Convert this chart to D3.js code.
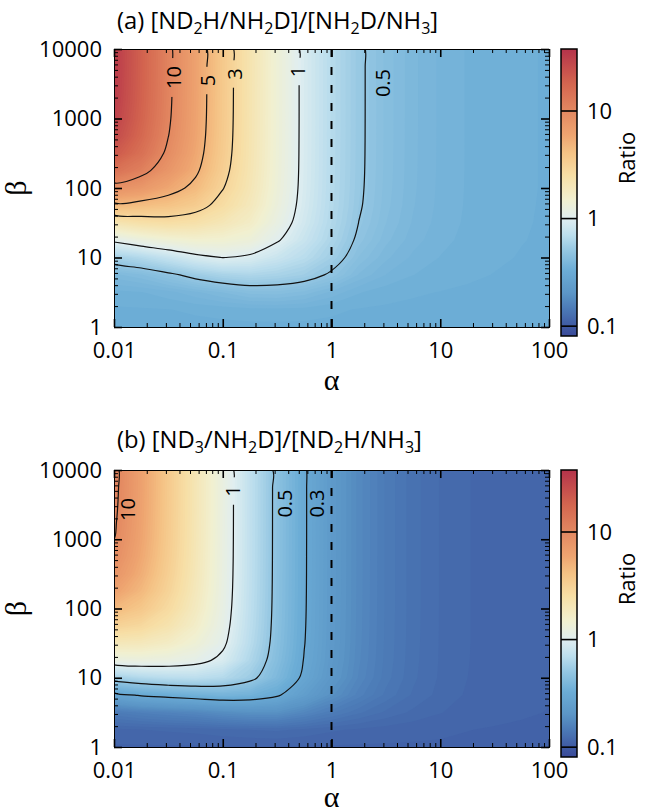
<!DOCTYPE html>
<html><head><meta charset="utf-8">
<script src="https://cdn.jsdelivr.net/npm/d3@7"></script>
<style>
body{margin:0;background:#fff;}
svg text{font-family:"Open Sans",sans-serif;fill:#000;}
</style></head><body>
<svg id="chart" width="656" height="812"></svg>
<script>
// ---------- data ----------
const alphaGrid = [0.01,0.0178,0.0316,0.0562,0.1,0.178,0.316,0.562,1,1.78,3.16,5.62,10,17.8,31.6,56.2,100];
const betaGrid  = [1,1.78,3.16,5.62,10,17.8,31.6,56.2,100,178,316,562,1000,1780,3160,5620,10000];
const alphaTicks = [0.01,0.1,1,10,100];
const betaTicks  = [1,10,100,1000,10000];
const ratioTicks = [0.1,1,10];

// panel (a): [ND2H/NH2D]/[NH2D/NH3]; one row per alpha, values over betaGrid
const ratioA = [
 [0.3333,0.3352,0.348,0.399,0.574,1.07,2.152,4.57,8.57,14.57,21.4,26.9,30.4,32.15,32.99,33.37,33.54],
 [0.3333,0.3358,0.3526,0.4212,0.65,1.254,2.421,4.326,7.47,11.43,14.85,17.02,18.14,18.66,18.89,18.99,19.03],
 [0.3333,0.3373,0.3639,0.4718,0.766,1.402,2.548,4.027,5.827,7.77,9.2,10.05,10.5,10.71,10.8,10.84,10.86],
 [0.3333,0.3399,0.3833,0.541,0.913,1.501,2.388,3.487,4.53,5.32,5.8,6.05,6.17,6.22,6.245,6.253,6.257],
 [0.3333,0.3431,0.4072,0.5998,1.005,1.466,2.042,2.609,3.048,3.351,3.518,3.598,3.636,3.653,3.66,3.664,3.666],
 [0.3333,0.3471,0.4343,0.6257,0.942,1.339,1.687,1.936,2.076,2.147,2.18,2.196,2.202,2.205,2.207,2.208,2.208],
 [0.3333,0.3481,0.4375,0.5982,0.802,1.032,1.197,1.295,1.346,1.369,1.379,1.384,1.386,1.387,1.387,1.387,1.387],
 [0.3333,0.346,0.4188,0.556,0.684,0.792,0.861,0.897,0.914,0.921,0.924,0.925,0.926,0.926,0.926,0.926,0.926],
 [0.3333,0.3407,0.383,0.4814,0.5615,0.614,0.642,0.656,0.662,0.665,0.666,0.667,0.667,0.667,0.667,0.667,0.667],
 [0.3333,0.3365,0.3551,0.4036,0.4434,0.4779,0.499,0.5114,0.5167,0.5191,0.5201,0.5205,0.5207,0.5208,0.5208,0.5208,0.5208],
 [0.3333,0.3349,0.3443,0.3699,0.3921,0.4123,0.4257,0.4328,0.4362,0.4376,0.4383,0.4386,0.4387,0.4387,0.4387,0.4387,0.4387],
 [0.3333,0.3342,0.3395,0.3539,0.3664,0.3777,0.3853,0.3893,0.3912,0.392,0.3923,0.3925,0.3926,0.3926,0.3926,0.3926,0.3926],
 [0.3333,0.3339,0.3372,0.3458,0.3529,0.359,0.3629,0.365,0.3659,0.3664,0.3666,0.3667,0.3667,0.3667,0.3667,0.3667,0.3667],
 [0.3333,0.3337,0.3355,0.34,0.3445,0.3485,0.3505,0.3514,0.3518,0.352,0.352,0.352,0.352,0.352,0.352,0.352,0.352],
 [0.3333,0.3335,0.3345,0.3372,0.3398,0.342,0.3432,0.3438,0.344,0.344,0.344,0.344,0.344,0.344,0.344,0.344,0.344],
 [0.3333,0.3334,0.3339,0.3354,0.3368,0.3381,0.3387,0.339,0.3392,0.3392,0.3392,0.3392,0.3392,0.3392,0.3392,0.3392,0.3392],
 [0.3333,0.3333,0.3336,0.3344,0.3352,0.3358,0.3362,0.3364,0.3366,0.3366,0.3366,0.3366,0.3366,0.3366,0.3366,0.3366,0.3366]
];

// panel (b): [ND3/NH2D]/[ND2H/NH3]
const ratioB = [
 [0.1111,0.1158,0.1469,0.273,0.5716,1.21,1.985,3.141,4.659,6.35,7.92,9.15,9.98,10.5,10.8,10.98,11.09],
 [0.1111,0.117,0.1561,0.3084,0.6443,1.25,1.935,2.812,3.764,4.624,5.284,5.73,6.0,6.15,6.24,6.29,6.32],
 [0.1111,0.1179,0.1629,0.3285,0.6884,1.21,1.717,2.248,2.718,3.068,3.3,3.441,3.523,3.567,3.592,3.607,3.615],
 [0.1111,0.1189,0.1699,0.3492,0.704,1.11,1.403,1.648,1.822,1.934,2.001,2.04,2.061,2.072,2.079,2.082,2.085],
 [0.1111,0.121,0.183,0.3692,0.6555,0.9249,1.0619,1.1293,1.1699,1.1933,1.2062,1.2136,1.2175,1.2198,1.2209,1.2215,1.2218],
 [0.1111,0.1227,0.1909,0.3563,0.542,0.6321,0.6821,0.7062,0.7195,0.727,0.7311,0.7334,0.7347,0.7353,0.7357,0.7359,0.736],
 [0.1111,0.1239,0.1907,0.3113,0.399,0.4312,0.447,0.4541,0.4579,0.46,0.4612,0.4619,0.4622,0.4624,0.4625,0.4626,0.4626],
 [0.1111,0.1211,0.1689,0.2399,0.282,0.2959,0.3024,0.3053,0.3069,0.3077,0.3082,0.3084,0.3086,0.3087,0.3087,0.3087,0.3087],
 [0.1111,0.1181,0.1491,0.1891,0.21,0.2164,0.2194,0.2207,0.2214,0.2218,0.222,0.2221,0.2222,0.2222,0.2222,0.2222,0.2222],
 [0.1111,0.116,0.1358,0.1578,0.168,0.171,0.1723,0.1729,0.1732,0.1734,0.1735,0.1736,0.1736,0.1736,0.1736,0.1736,0.1736],
 [0.1111,0.1145,0.127,0.1388,0.1437,0.1451,0.1457,0.1459,0.1461,0.1462,0.1462,0.1462,0.1462,0.1462,0.1462,0.1462,0.1462],
 [0.1111,0.1135,0.1212,0.1274,0.1297,0.1303,0.1306,0.1308,0.1309,0.1309,0.1309,0.1309,0.1309,0.1309,0.1309,0.1309,0.1309],
 [0.1111,0.1127,0.1174,0.1206,0.1217,0.122,0.1221,0.1222,0.1222,0.1222,0.1222,0.1222,0.1222,0.1222,0.1222,0.1222,0.1222],
 [0.1111,0.1119,0.1145,0.1163,0.1171,0.1173,0.1174,0.1174,0.1174,0.1174,0.1174,0.1174,0.1174,0.1174,0.1174,0.1174,0.1174],
 [0.1111,0.1115,0.113,0.1141,0.1145,0.1146,0.1146,0.1146,0.1146,0.1146,0.1146,0.1146,0.1146,0.1146,0.1146,0.1146,0.1146],
 [0.1111,0.1113,0.1122,0.1128,0.113,0.1131,0.1131,0.1131,0.1131,0.1131,0.1131,0.1131,0.1131,0.1131,0.1131,0.1131,0.1131],
 [0.1111,0.1112,0.1117,0.112,0.1121,0.1122,0.1122,0.1122,0.1122,0.1122,0.1122,0.1122,0.1122,0.1122,0.1122,0.1122,0.1122]
];

const contourLevelsA = [0.5,1,3,5,10];
const contourLevelsB = [0.3,0.5,1,10];
const labelsA = [
 {text:"10", a:0.0354, b:3890, gap:true},
 {text:"5",  a:0.0724, b:3520, gap:true},
 {text:"3",  a:0.128,  b:4370, gap:true},
 {text:"1",  a:0.492,  b:4745, gap:true},
 {text:"0.5",a:2.94,   b:3240, gap:false}
];
const labelsB = [
 {text:"10", a:0.0133, b:2690, gap:false},
 {text:"1",  a:0.124,  b:4970, gap:true},
 {text:"0.5",a:0.37,   b:3280, gap:false},
 {text:"0.3",a:0.736,  b:3280, gap:false}
];
const titleA = "(a) [ND_2H/NH_2D]/[NH_2D/NH_3]";
const titleB = "(b) [ND_3/NH_2D]/[ND_2H/NH_3]";

// ---------- style ----------
const PL = 114, PR = 549;
const cbMin = 0.081, cbMax = 37.7;
const colorStops = [0.081,0.1,0.15,0.2,0.33,0.5,0.7,1,1.5,2.5,4,6,10,18,37.7];
const colorHex = ["#3a4a99","#3f5aa3","#4d7db8","#5b95c6","#6cadd6","#93c6e2","#bcdeed","#e0eef0","#f1f0d0","#f7dfa6","#f5c486","#eea470","#e38861","#d3654f","#b5334a"];
const color = d3.scaleLog().domain(colorStops).range(colorHex).interpolate(d3.interpolateRgb).clamp(true);

const svg = d3.select("#chart");
const defs = svg.append("defs");

function title(x, y, str){
  const t = svg.append("text").attr("x",x).attr("y",y).attr("font-size",23.8);
  const parts = str.split(/_(\d)/);
  parts.forEach((p,i)=>{
    if(i%2===1) t.append("tspan").attr("font-size",16).attr("dy",5).text(p);
    else if(p) t.append("tspan").attr("dy", i>0 ? -5 : 0).text(p);
  });
}

function panel(o){
  const g = svg.append("g");
  const x = d3.scaleLog().domain([alphaTicks[0], alphaTicks[alphaTicks.length-1]]).range([PL,PR]);
  const y = d3.scaleLog().domain([betaTicks[0], betaTicks[betaTicks.length-1]]).range([o.bottom,o.top]);
  const nx = alphaGrid.length, ny = betaGrid.length;
  const vals = [];
  for(let j=0;j<ny;j++) for(let i=0;i<nx;i++) vals.push(Math.log10(o.ratio[i][j]));
  const gx = d3.scaleLinear().domain(d3.range(nx).map(i=>i+0.5)).range(alphaGrid.map(Math.log10));
  const gy = d3.scaleLinear().domain(d3.range(ny).map(j=>j+0.5)).range(betaGrid.map(Math.log10));
  const toPx = (px,py)=>[x(Math.pow(10,gx(px))), y(Math.pow(10,gy(py)))];
  const proj = d3.geoTransform({point(px,py){ const p=toPx(px,py); this.stream.point(p[0],p[1]); }});
  const path = d3.geoPath(proj);

  const clipId = o.id+"clip";
  defs.append("clipPath").attr("id",clipId).append("rect")
    .attr("x",PL).attr("y",o.top).attr("width",PR-PL).attr("height",o.bottom-o.top);

  // heat map as many filled bands
  const heat = g.append("g").attr("clip-path",`url(#${clipId})`);
  const step = 0.02;
  const lmin = Math.log10(cbMin), lmax = Math.log10(cbMax);
  heat.append("rect").attr("x",PL).attr("y",o.top).attr("width",PR-PL).attr("height",o.bottom-o.top)
    .attr("fill", color(Math.pow(10,d3.min(vals))));
  const bands = d3.contours().size([nx,ny]).thresholds(d3.range(lmin,lmax,step))(vals);
  heat.selectAll("path").data(bands.filter(b=>b.coordinates.length)).join("path")
    .attr("d",path).attr("fill",d=>color(Math.pow(10,d.value+step/2)));

  // mask for label gaps
  const maskId = o.id+"mask";
  const mask = defs.append("mask").attr("id",maskId).attr("maskUnits","userSpaceOnUse")
    .attr("x",0).attr("y",0).attr("width",656).attr("height",812);
  mask.append("rect").attr("x",0).attr("y",0).attr("width",656).attr("height",812).attr("fill","#fff");

  // contour lines
  const lineGen = d3.line().curve(d3.curveCatmullRomClosed.alpha(0.5));
  const lines = g.append("g").attr("clip-path",`url(#${clipId})`).append("g").attr("mask",`url(#${maskId})`);
  o.levels.forEach(lv=>{
    const c = d3.contours().size([nx,ny]).thresholds([Math.log10(lv)])(vals)[0];
    c.coordinates.forEach(poly=>poly.forEach(ring=>{
      const pts = ring.slice(0,-1).map(p=>toPx(p[0],p[1]));
      lines.append("path").attr("d",lineGen(pts)).attr("fill","none")
        .attr("stroke","#111").attr("stroke-width",1.2);
    }));
  });

  // dashed alpha = 1 line
  g.append("line").attr("x1",x(1)).attr("x2",x(1)).attr("y1",o.top).attr("y2",o.bottom)
    .attr("stroke","#000").attr("stroke-width",2).attr("stroke-dasharray","8,10");

  // contour labels
  o.labels.forEach(d=>{
    const px = x(d.a), py = y(d.b);
    const t = g.append("text").attr("transform",`translate(${px},${py}) rotate(-90)`)
      .attr("text-anchor","middle").attr("dy","0.36em").attr("font-size",20).text(d.text);
    if(d.gap){
      const len = t.node().getComputedTextLength();
      mask.append("rect").attr("x",px-10).attr("y",py-len/2-8).attr("width",20).attr("height",len+16).attr("fill","#000");
    }
  });

  // axes
  const isMajor = v => Math.abs(Math.log10(v)-Math.round(Math.log10(v)))<1e-6;
  const minorX = x.ticks().filter(v=>!isMajor(v));
  const minorY = y.ticks().filter(v=>!isMajor(v));
  const fmt = d3.format("~g");
  function styleAxis(sel, w){
    sel.attr("font-family",null).attr("font-size",22);
    sel.selectAll("line").attr("stroke","#000").attr("stroke-width",w);
    sel.select(".domain").attr("stroke","#000").attr("stroke-width",1);
  }
  const ax = g.append("g");
  ax.append("g").attr("transform",`translate(0,${o.bottom})`)
    .call(d3.axisBottom(x).tickValues(minorX).tickSize(-4).tickSizeOuter(0).tickFormat("")).call(s=>styleAxis(s,1));
  ax.append("g").attr("transform",`translate(0,${o.bottom})`)
    .call(d3.axisBottom(x).tickValues(alphaTicks).tickSize(-8).tickSizeOuter(0).tickPadding(15).tickFormat(fmt)).call(s=>styleAxis(s,1.6));
  ax.append("g").attr("transform",`translate(0,${o.top})`)
    .call(d3.axisTop(x).tickValues(minorX).tickSize(-4).tickSizeOuter(0).tickFormat("")).call(s=>styleAxis(s,1));
  ax.append("g").attr("transform",`translate(0,${o.top})`)
    .call(d3.axisTop(x).tickValues(alphaTicks).tickSize(-8).tickSizeOuter(0).tickFormat("")).call(s=>styleAxis(s,1.6));
  ax.append("g").attr("transform",`translate(${PL},0)`)
    .call(d3.axisLeft(y).tickValues(minorY).tickSize(-4).tickSizeOuter(0).tickFormat("")).call(s=>styleAxis(s,1));
  ax.append("g").attr("transform",`translate(${PL},0)`)
    .call(d3.axisLeft(y).tickValues(betaTicks).tickSize(-8).tickSizeOuter(0).tickPadding(12).tickFormat(fmt)).call(s=>styleAxis(s,1.6));
  ax.append("g").attr("transform",`translate(${PR},0)`)
    .call(d3.axisRight(y).tickValues(minorY).tickSize(-4).tickSizeOuter(0).tickFormat("")).call(s=>styleAxis(s,1));
  ax.append("g").attr("transform",`translate(${PR},0)`)
    .call(d3.axisRight(y).tickValues(betaTicks).tickSize(-8).tickSizeOuter(0).tickFormat("")).call(s=>styleAxis(s,1.6));

  // axis titles
  g.append("text").attr("x",(PL+PR)/2).attr("y",o.bottom+o.aOff).attr("text-anchor","middle")
    .style("font-family","'Liberation Serif',serif").attr("font-size",30).text("α");
  g.append("text").attr("transform",`translate(${26},${(o.top+o.bottom)/2}) rotate(-90)`).attr("text-anchor","middle")
    .style("font-family","'Liberation Serif',serif").attr("font-size",30).text("β");

  // colour bar
  const cbX = 561, cbW = 16, cbTop = o.top, cbH = 287;
  const cy = d3.scaleLog().domain([cbMin,cbMax]).range([cbTop+cbH, cbTop]);
  const gradId = o.id+"grad";
  const grad = defs.append("linearGradient").attr("id",gradId).attr("x1",0).attr("y1",1).attr("x2",0).attr("y2",0);
  d3.range(0,1.0001,1/80).forEach(f=>{
    grad.append("stop").attr("offset",f).attr("stop-color",color(Math.pow(10,lmin+f*(lmax-lmin))));
  });
  g.append("rect").attr("x",cbX).attr("y",cbTop).attr("width",cbW).attr("height",cbH).attr("fill",`url(#${gradId})`);
  ratioTicks.forEach(v=>{
    g.append("line").attr("x1",cbX).attr("x2",cbX+cbW).attr("y1",cy(v)).attr("y2",cy(v)).attr("stroke","#000").attr("stroke-width",1.6);
    g.append("text").attr("x",cbX+26).attr("y",cy(v)).attr("dy","0.36em").attr("font-size",22).text(fmt(v));
  });
  g.append("rect").attr("x",cbX).attr("y",cbTop).attr("width",cbW).attr("height",cbH)
    .attr("fill","none").attr("stroke","#000").attr("stroke-width",1.5);
  g.append("text").attr("transform",`translate(${627},${cbTop+109}) rotate(-90)`).attr("text-anchor","middle")
    .attr("dy","0.36em").attr("font-size",22).text("Ratio");
}

title(117, 29, titleA);
title(117, 448, titleB);
panel({id:"pa", top:49, bottom:327, aOff:63, ratio:ratioA, levels:contourLevelsA, labels:labelsA});
panel({id:"pb", top:470, bottom:747, aOff:60, ratio:ratioB, levels:contourLevelsB, labels:labelsB});
</script>
</body></html>
